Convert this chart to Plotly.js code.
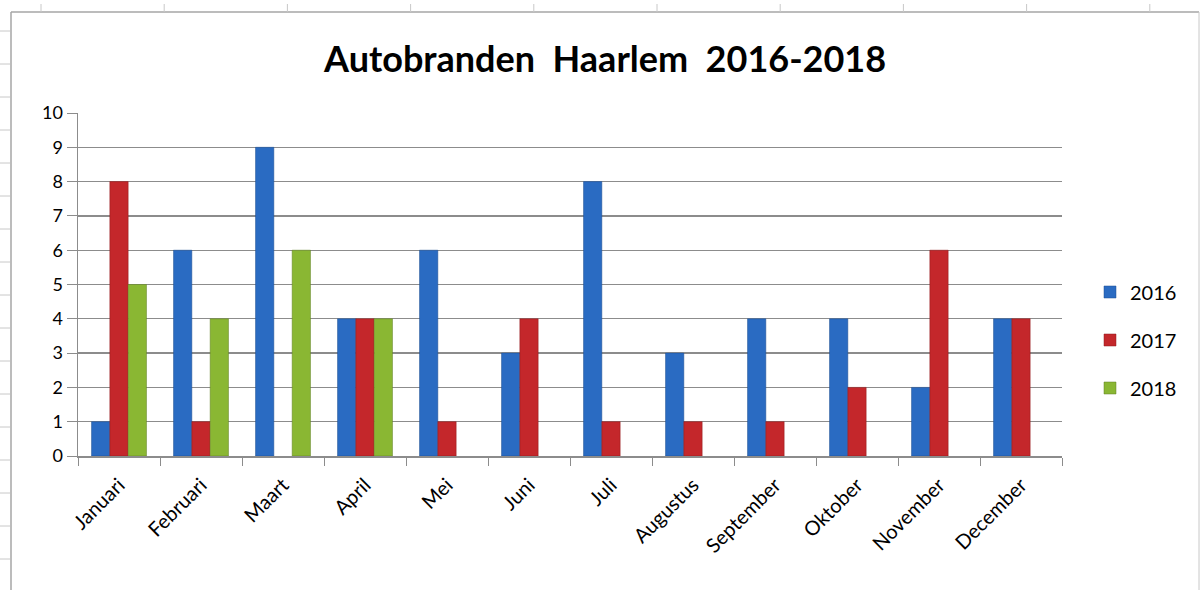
<!DOCTYPE html>
<html>
<head>
<meta charset="utf-8">
<script src="https://cdn.plot.ly/plotly-3.0.1.min.js"></script>
<style>html,body{margin:0;padding:0;background:#fff;}#chart{width:1203px;height:590px;}</style>
</head>
<body>
<div id="chart"></div>
<script>
const months = ["Januari","Februari","Maart","April","Mei","Juni","Juli","Augustus","September","Oktober","November","December"];
const y2016 = [1,6,9,4,6,3,8,3,4,4,2,4];
const y2017 = [8,1,null,4,1,4,1,1,1,2,6,4];
const y2018 = [5,4,6,4,null,null,null,null,null,null,null,null];
const seriesNames = ["2016","2017","2018"];
const colors = ["#2A6BC2","#C4272B","#8AB733"];
const lineColors = ["#1F4F91","#8E1A1D","#5F7F22"];

const data = [y2016,y2017,y2018].map((vals,i)=>({
  type:"bar", x:months, y:vals, name:seriesNames[i], legendgroup:"g"+i,
  marker:{color:colors[i], line:{color:lineColors[i], width:0.5}}
}));

// paper-coordinate helpers for decorative spreadsheet frame
const L=78, R=1062, T=113, B=456;
const px = p => (p-L)/(R-L);
const py = p => (B-p)/(B-T);
const shapes = [];
const gray = "#A6A6A6";
// chart border
shapes.push({type:"line", xref:"paper", yref:"paper", x0:px(11), x1:px(11), y0:py(12), y1:py(592), line:{color:gray,width:1.5}});
shapes.push({type:"line", xref:"paper", yref:"paper", x0:px(11), x1:px(1199), y0:py(12), y1:py(12), line:{color:gray,width:1.5}});
shapes.push({type:"line", xref:"paper", yref:"paper", x0:px(1199), x1:px(1199), y0:py(12), y1:py(592), line:{color:"#C8C8C8",width:1}});
// spreadsheet tick marks
for (let yy=31; yy<590; yy+=33) {
  shapes.push({type:"line", xref:"paper", yref:"paper", x0:px(0), x1:px(10), y0:py(yy), y1:py(yy), line:{color:"#C8C8C8",width:1}});
}
for (let xx=41; xx<1203; xx+=123.2) {
  shapes.push({type:"line", xref:"paper", yref:"paper", x0:px(xx), x1:px(xx), y0:py(4), y1:py(12), line:{color:"#C8C8C8",width:1}});
}

const font = "Lato, 'Open Sans', sans-serif";
const layout = {
  width:1203, height:590,
  margin:{l:L, r:1203-R, t:T, b:590-B},
  paper_bgcolor:"#fff", plot_bgcolor:"#fff",
  title:{text:"<b>Autobranden  Haarlem  2016-2018</b>", font:{family:font, size:36, color:"#000"}, x:0.503, xanchor:"center", y:0.9, yanchor:"middle"},
  barmode:"group", bargap:0.33, bargroupgap:0,
  xaxis:{tickangle:-45, tickfont:{family:font, size:20, color:"#000"}, showline:true, linecolor:"#8C8C8C", linewidth:1.5,
         ticks:"outside", tickson:"boundaries", ticklen:8, tickcolor:"#8C8C8C", showgrid:false, fixedrange:true, ticklabelstandoff:8},
  yaxis:{range:[0,10], dtick:1, tickfont:{family:font, size:18, color:"#000"}, showline:true, linecolor:"#8C8C8C", linewidth:1.5,
         ticks:"outside", ticklen:10, tickcolor:"#8C8C8C", gridcolor:"#8C8C8C", gridwidth:1.3, zeroline:false, fixedrange:true},
  legend:{x:px(1090), xanchor:"left", y:py(340), yanchor:"middle", font:{family:font, size:20, color:"#000"},
          traceorder:"grouped", tracegroupgap:19, itemwidth:30, bgcolor:"rgba(0,0,0,0)"},
  shapes:shapes
};
Plotly.newPlot("chart", data, layout, {displayModeBar:false, staticPlot:true});
</script>
</body>
</html>
